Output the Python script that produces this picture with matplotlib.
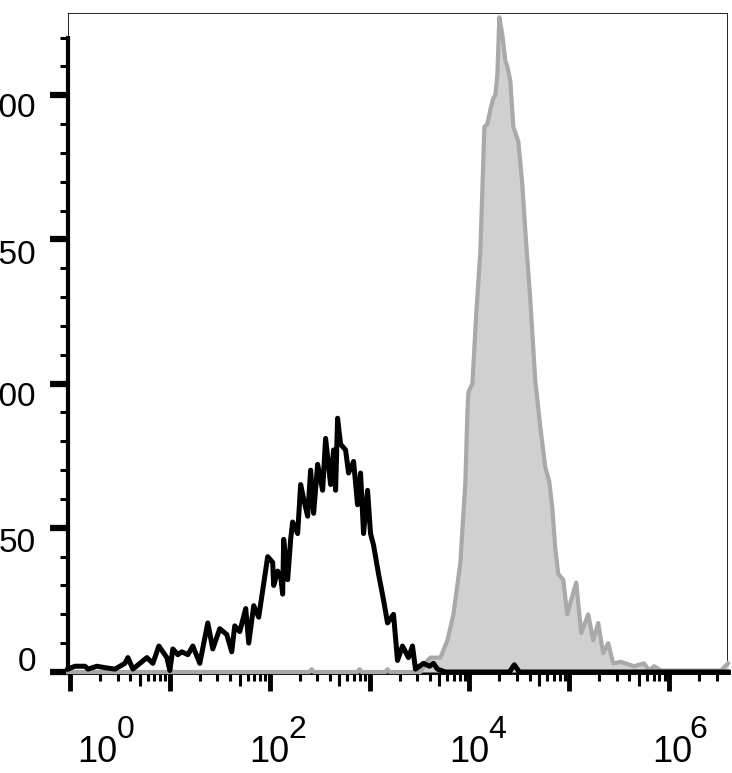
import matplotlib.pyplot as plt
import numpy as np
from matplotlib.transforms import ScaledTranslation
from matplotlib.ticker import FixedLocator, NullFormatter, NullLocator
from matplotlib.patches import Rectangle

plt.rcParams['font.family'] = ['Liberation Sans', 'DejaVu Sans']

# контроль (черная линия): положение в декадах log10 и число событий
black_log = [-0.02, 0.05, 0.15, 0.18, 0.27, 0.35, 0.45, 0.55, 0.58, 0.63, 0.70, 0.77,
             0.83, 0.89, 0.97, 1.00, 1.03, 1.08, 1.12, 1.18, 1.23, 1.30, 1.38, 1.43,
             1.50, 1.57, 1.62, 1.65, 1.70, 1.76, 1.79, 1.84, 1.89, 1.98, 2.03, 2.04,
             2.08, 2.11, 2.13, 2.14, 2.18, 2.21, 2.23, 2.28, 2.31, 2.34, 2.38, 2.41,
             2.44, 2.48, 2.53, 2.56, 2.61, 2.64, 2.66, 2.68, 2.71, 2.76, 2.79, 2.84,
             2.88, 2.91, 2.94, 2.98, 3.01, 3.04, 3.09, 3.14, 3.18, 3.24, 3.28, 3.33,
             3.39, 3.43, 3.46, 3.54, 3.60, 3.64, 3.68, 3.76, 4.40, 4.45, 4.50, 6.59]
black_cnt = [1, 2, 2, 1, 2, 1.5, 1, 3, 5, 1, 3, 5,
             3, 9, 5, 0.5, 8, 6, 7, 6, 9, 3, 17, 8,
             15, 13, 7, 16, 14, 22, 10, 23, 19, 40, 38, 30,
             35, 33, 27, 46, 32, 46, 52, 48, 65, 60, 54, 70,
             55, 72, 63, 81, 65, 77, 63, 88, 79, 77, 69, 73,
             58, 69, 48, 63, 48, 44, 34, 25, 17, 20, 4, 9,
             5, 9, 1, 3, 2, 3, 1, 0, 0, 2.5, 0, 0]

# окрашенный образец (серая заливка)
gray_log = [-0.02, 2.40, 2.42, 2.44, 2.88, 2.90, 2.92, 3.16, 3.18, 3.20, 3.51, 3.58,
            3.61, 3.71, 3.78, 3.84, 3.91, 3.94, 3.96, 3.98, 3.99, 4.03, 4.07, 4.11,
            4.15, 4.18, 4.21, 4.24, 4.26, 4.28, 4.30, 4.33, 4.36, 4.38, 4.41, 4.44,
            4.47, 4.49, 4.53, 4.56, 4.61, 4.66, 4.71, 4.76, 4.80, 4.83, 4.86, 4.89,
            4.94, 4.98, 5.02, 5.07, 5.12, 5.19, 5.24, 5.29, 5.34, 5.39, 5.44, 5.52,
            5.65, 5.75, 5.80, 5.85, 5.92, 6.32, 6.52, 6.59]
gray_cnt = [0, 0, 1, 0, 0, 1, 0, 0, 1, 0, 0, 4,
            5, 5, 11, 20, 38, 55, 66, 90, 97, 100, 125, 146,
            189, 190, 195, 199, 200, 207, 227, 221, 212, 210, 205, 189,
            186, 184, 169, 153, 129, 101, 85, 71, 66, 57, 43, 34,
            32, 20, 25, 31, 13.5, 20, 11, 17, 6.5, 10, 3, 3.5,
            2, 3, 0.5, 2, 0.5, 0.5, 0.5, 3]

y_ticks = [0, 50, 100, 150, 200]
y_labels = ['0', '50', '100', '150', '200']
x_decades = [0, 2, 4, 6]

fig = plt.figure(figsize=(7.32, 7.73), dpi=100)
ax = fig.add_axes([68/732, 101/773, 660/732, 659/773])
ax.set_xscale('log')
ax.set_xlim(10**-0.02, 10**6.59)
ax.set_ylim(0, 228.5)

gx = 10.0 ** np.array(gray_log)
bx = 10.0 ** np.array(black_log)
ax.fill_between(gx, gray_cnt, color='#d0d0d0', lw=0, zorder=3, clip_on=False)
ax.plot(gx, gray_cnt, color='#a9a9a9', lw=3.0, zorder=4, clip_on=False)
ax.plot(bx, black_cnt, color='black', lw=3.6, zorder=5, clip_on=False)

# рамка
for s in ['top', 'right']:
    ax.spines[s].set_visible(False)
ax.add_patch(Rectangle((0, 0), 1, 1, transform=ax.transAxes, fill=False,
                       lw=1.2, ec='black', zorder=1))
ax.spines['left'].set_linewidth(3)
ax.spines['left'].set_bounds(0, 220)
ax.spines['bottom'].set_linewidth(3.5)

# ось Y
ax.set_yticks(y_ticks)
ax.set_yticklabels(y_labels, fontsize=24)
ax.yaxis.set_minor_locator(FixedLocator([v for v in range(10, 230, 10) if v % 50]))
ax.tick_params(axis='y', which='major', length=13, width=4.5, pad=10)
ax.tick_params(axis='y', which='minor', length=6, width=2.2)
y_shift = [-13, 12, 10, 13, 10]
for lab, dy in zip(ax.get_yticklabels(), y_shift):
    lab.set_transform(lab.get_transform() + ScaledTranslation(0, -dy/100, fig.dpi_scale_trans))

# ось X
ax.xaxis.set_major_locator(FixedLocator([10.0**k for k in range(0, 7)]))
ax.xaxis.set_major_formatter(NullFormatter())
ax.xaxis.set_minor_locator(FixedLocator([m * 10.0**k for k in range(0, 7) for m in [2, 3, 4, 6, 7, 8, 9]]))
ax.xaxis.set_minor_formatter(NullFormatter())
ax.tick_params(axis='x', which='major', length=14, width=3.5)
ax.tick_params(axis='x', which='minor', length=6.5, width=2.2)

sec = ax.secondary_xaxis('bottom')
sec.set_xticks([5 * 10.0**k for k in range(0, 6)])
sec.xaxis.set_minor_locator(NullLocator())
sec.tick_params(length=10, width=2.2, labelbottom=False)
sec.spines['bottom'].set_visible(False)

base_dx = [27.5, 0, 0, 3]
sup_dx = [56, 28, 28, 29]
for d, b, s in zip(x_decades, base_dx, sup_dx):
    ax.annotate('10', xy=(10.0**d, 0), xycoords=('data', 'axes fraction'),
                xytext=(b*0.72, -90*0.72), textcoords='offset points',
                ha='center', va='baseline', fontsize=26, annotation_clip=False)
    ax.annotate(str(d), xy=(10.0**d, 0), xycoords=('data', 'axes fraction'),
                xytext=(s*0.72, -66*0.72), textcoords='offset points',
                ha='center', va='baseline', fontsize=23, annotation_clip=False)

fig.savefig('out.png', dpi=100)
